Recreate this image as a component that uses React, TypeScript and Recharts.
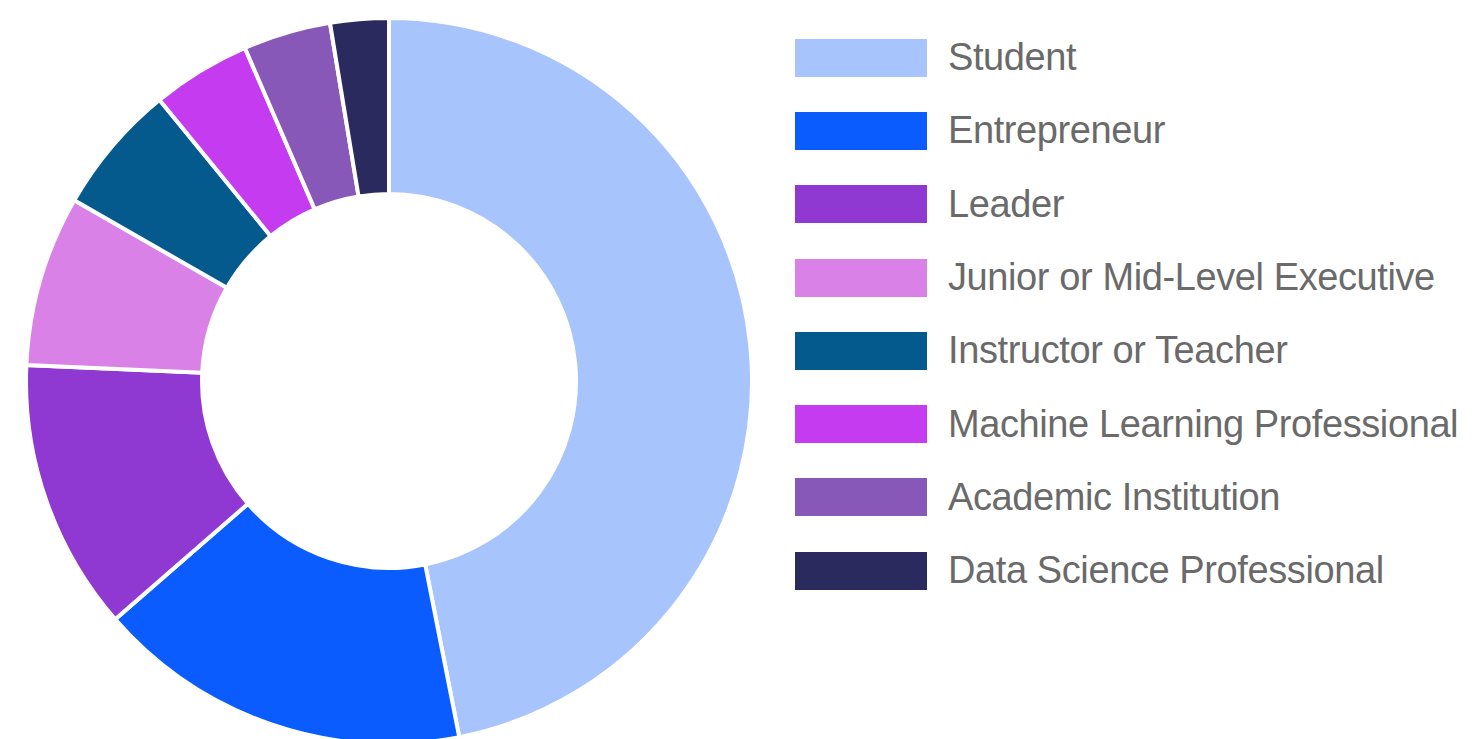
import * as React from 'react'
import { PieChart, Pie, Cell, Legend } from 'recharts'

const categories = [
	'Student',
	'Entrepreneur',
	'Leader',
	'Junior or Mid-Level Executive',
	'Instructor or Teacher',
	'Machine Learning Professional',
	'Academic Institution',
	'Data Science Professional',
]
const shares = [46.9, 16.7, 12.1, 7.6, 5.8, 4.4, 3.9, 2.6]
const colors = ['#a8c4fc', '#0a5cff', '#9039d2', '#d981e6', '#045a8d', '#c53cf0', '#8858b9', '#2b2a5e']

const data = categories.map((name, i) => ({ name, value: shares[i] }))

const renderLegend = () => (
	<div style={{ fontFamily: '"Liberation Sans", Arial, sans-serif' }}>
		{categories.map((name, i) => (
			<div key={name} style={{ display: 'flex', alignItems: 'center', height: 73.3 }}>
				<div style={{ width: 132, height: 38, background: colors[i] }} />
				<span
					style={{
						marginLeft: 21,
						fontSize: 38,
						letterSpacing: -0.4,
						color: '#6a6a6a',
						whiteSpace: 'nowrap',
					}}
				>
					{name}
				</span>
			</div>
		))}
	</div>
)

const App = (): JSX.Element => {
	return (
		<PieChart width={1466} height={731}>
			<Pie
				data={data}
				dataKey="value"
				nameKey="name"
				cx={376}
				cy={368}
				innerRadius={187}
				outerRadius={363}
				startAngle={90}
				endAngle={-270}
				stroke="#ffffff"
				strokeWidth={4}
				isAnimationActive={false}
			>
				{data.map((d, i) => (
					<Cell key={d.name} fill={colors[i]} />
				))}
			</Pie>
			<Legend
				content={renderLegend}
				wrapperStyle={{ left: 787, top: 13, width: 678 }}
			/>
		</PieChart>
	)
}

export default App
